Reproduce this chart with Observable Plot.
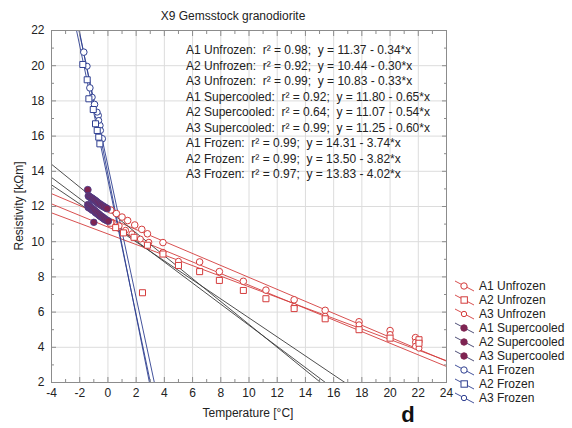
<!DOCTYPE html>
<html><head><meta charset="utf-8">
<script src="https://cdn.jsdelivr.net/npm/d3@7"></script>
<script src="https://cdn.jsdelivr.net/npm/@observablehq/plot@0.6"></script>
<style>
body{margin:0;background:#fff}
svg{font-family:"Liberation Sans",Arial,sans-serif}
</style>
</head><body><div id="chart"></div>
<script>
// ---- fitted regressions (from the annotation) ----
const seriesNames = ["A1 Unfrozen","A2 Unfrozen","A3 Unfrozen","A1 Supercooled","A2 Supercooled","A3 Supercooled","A1 Frozen","A2 Frozen","A3 Frozen"];
const intercepts = [11.37,10.44,10.83,11.80,11.07,11.25,14.31,13.50,13.83];
const slopes = [0.34,0.30,0.33,0.65,0.54,0.60,3.74,3.82,4.02];
const r2 = [0.98,0.92,0.99,0.92,0.64,0.99,0.99,0.99,0.97];
const groups = ["unfrozen","unfrozen","unfrozen","supercooled","supercooled","supercooled","frozen","frozen","frozen"];
const symbols = ["circle","square","smallcircle","filled","filled","filled","circle","square","smallcircle"];

// ---- tick labels ----
const xTicks = [-4,-2,0,2,4,6,8,10,12,14,16,18,20,22,24];
const yTicks = [2,4,6,8,10,12,14,16,18,20,22];
const xMinor = [-3,-1,1,3,5,7,9,11,13,15,17,19,21,23];
const yMinor = [3,5,7,9,11,13,15,17,19,21];

// ---- measured points ----
const a1UnfrozenT = [0.2,0.6,1.0,1.4,1.9,2.4,2.8,3.9,6.5,7.9,9.6,11.2,13.2,15.4,17.8,20.0,21.8];
const a1UnfrozenR = [11.8,11.6,11.4,11.2,10.95,10.7,10.45,9.95,8.85,8.3,7.75,7.25,6.7,6.1,5.45,4.95,4.55];
const a2UnfrozenT = [0.2,0.55,1.1,1.85,2.45,2.8,3.9,5.0,6.5,7.9,9.6,11.2,13.2,15.4,17.8,20.0,22.05,22.05];
const a2UnfrozenR = [11.05,10.8,10.5,10.25,7.1,9.8,9.3,8.65,8.3,7.8,7.23,6.76,6.2,5.62,5.0,4.52,4.43,4.23];
const a3UnfrozenT = [0.3,0.8,1.25,1.7,2.3,2.9,3.9,5.0,13.2,15.4,17.8,20.0,21.8,21.8,22.05];
const a3UnfrozenR = [11.1,10.9,10.65,10.45,10.15,9.97,9.4,8.89,6.32,5.77,5.28,4.73,4.29,4.06,3.95];

const a1SuperT = [-1.43,-1.38,-1.31,-1.24,-1.17,-1.1,-1.02,-0.95,-0.88,-0.8,-0.72,-0.64,-0.56,-0.47,-0.38,-0.28,-0.17,-0.06];
const a1SuperR = [12.95,12.6,12.56,12.52,12.48,12.45,12.4,12.36,12.32,12.27,12.22,12.17,12.12,12.08,12.03,11.98,11.93,11.88];
const a2SuperT = [-1.4,-1.3,-1.2,-1.1,-1.0,-0.9,-0.8,-0.7,-0.6,-0.5,-0.4,-0.3,-0.2];
const a2SuperR = [11.95,11.9,11.85,11.78,11.1,11.66,11.6,11.55,11.48,11.42,11.36,11.3,11.25];
const a3SuperT = [-1.42,-1.36,-1.29,-1.22,-1.15,-1.08,-1.0,-0.92,-0.84,-0.76,-0.67,-0.58,-0.49,-0.4,-0.3,-0.2,-0.1,0.02];
const a3SuperR = [12.1,12.05,12.0,11.95,11.9,11.85,11.8,11.74,11.69,11.63,11.57,11.51,11.45,11.4,11.34,11.28,11.22,11.17];

const a1FrozenT = [-1.71,-1.28,-0.95,-0.69,-0.57,-0.4];
const a1FrozenR = [20.77,18.74,17.8,17.17,16.6,15.85];
const a2FrozenT = [-1.78,-1.47,-1.35,-1.04,-0.88,-0.76,-0.65,-0.57];
const a2FrozenR = [20.07,19.2,18.12,17.51,16.7,16.32,15.94,15.56];
const a3FrozenT = [-1.47,-1.11,-0.76,-0.65,-0.52];
const a3FrozenR = [19.97,18.21,17.36,16.89,16.32];

// ---- styles ----
const RED = "#d43c3c", DARK = "#3b3b3b", BLUE = "#2f3f91", SCFILL = "#7e2452", SCSTROKE = "#4a3f8c";
const lineColor = {unfrozen: RED, supercooled: DARK, frozen: BLUE};
const symColor = {unfrozen: RED, supercooled: SCSTROKE, frozen: BLUE};

const zip = (t, r) => t.map((v, i) => ({t: v, r: r[i]}));
const xDomain = [xTicks[0], xTicks[xTicks.length - 1]];
const lineData = seriesNames.map((name, i) => ({name, group: groups[i], pts: xDomain.map(t => ({t, r: intercepts[i] - slopes[i] * t}))}));

const W = 572, H = 428;
const ml = 51, mr = 126, mt = 30, mb = 46;
const fmt = d => String(d);

const dotsOpen = (d, sym, r, color) => Plot.dot(d, {x: "t", y: "r", symbol: sym, r, stroke: color, fill: "white", strokeWidth: 1});

const plot = Plot.plot({
  width: W, height: H,
  marginLeft: ml, marginRight: mr, marginTop: mt, marginBottom: mb,
  x: {domain: xDomain},
  y: {domain: [yTicks[0], yTicks[yTicks.length - 1]]},
  style: {fontFamily: "Liberation Sans, Arial, sans-serif", fontSize: "12px", background: "white"},
  marks: [
    Plot.gridX(xTicks, {stroke: "#dcdcdc", strokeOpacity: 1}),
    Plot.gridY(yTicks, {stroke: "#dcdcdc", strokeOpacity: 1}),
    // regression lines
    ...lineData.map(L => Plot.line(L.pts, {x: "t", y: "r", stroke: lineColor[L.group], strokeWidth: 0.9, clip: true})),
    // unfrozen
    dotsOpen(zip(a1UnfrozenT, a1UnfrozenR), "circle", 3.3, RED),
    dotsOpen(zip(a3UnfrozenT, a3UnfrozenR), "circle", 3.0, RED),
    dotsOpen(zip(a2UnfrozenT, a2UnfrozenR), "square", 3.4, RED),
    // supercooled
    Plot.dot(zip(a1SuperT, a1SuperR), {x: "t", y: "r", r: 3.5, fill: SCFILL, stroke: SCSTROKE, strokeWidth: 0.8}),
    Plot.dot(zip(a2SuperT, a2SuperR), {x: "t", y: "r", r: 3.3, fill: SCFILL, stroke: SCSTROKE, strokeWidth: 0.8}),
    Plot.dot(zip(a3SuperT, a3SuperR), {x: "t", y: "r", r: 3.5, fill: SCFILL, stroke: SCSTROKE, strokeWidth: 0.8}),
    // frozen
    dotsOpen(zip(a1FrozenT, a1FrozenR), "circle", 3.3, BLUE),
    dotsOpen(zip(a3FrozenT, a3FrozenR), "circle", 3.0, BLUE),
    dotsOpen(zip(a2FrozenT, a2FrozenR), "square", 3.4, BLUE),
    Plot.frame({stroke: "#8c8c8c"}),
    // axes with labels
    Plot.axisX(xTicks, {anchor: "bottom", tickSize: 0, tickPadding: 6, label: null, fill: "#222", fontSize: 12, tickFormat: fmt}),
    Plot.axisY(yTicks, {anchor: "left", tickSize: 0, tickPadding: 7, label: null, fill: "#222", fontSize: 12, tickFormat: fmt}),
    // inward ticks
    Plot.axisX(xTicks, {anchor: "bottom", tickSize: -5, text: null, label: null, stroke: "#8c8c8c"}),
    Plot.axisX(xMinor, {anchor: "bottom", tickSize: -3, text: null, label: null, stroke: "#8c8c8c"}),
    Plot.axisX(xTicks, {anchor: "top", tickSize: -5, text: null, label: null, stroke: "#8c8c8c"}),
    Plot.axisX(xMinor, {anchor: "top", tickSize: -3, text: null, label: null, stroke: "#8c8c8c"}),
    Plot.axisY(yTicks, {anchor: "left", tickSize: -5, text: null, label: null, stroke: "#8c8c8c"}),
    Plot.axisY(yMinor, {anchor: "left", tickSize: -3, text: null, label: null, stroke: "#8c8c8c"}),
    Plot.axisY(yTicks, {anchor: "right", tickSize: -5, text: null, label: null, stroke: "#8c8c8c"}),
    Plot.axisY(yMinor, {anchor: "right", tickSize: -3, text: null, label: null, stroke: "#8c8c8c"})
  ]
});

document.getElementById("chart").appendChild(plot);
const svg = d3.select(plot);
const txt = (x, y, s, o = {}) => svg.append("text").attr("x", x).attr("y", y).attr("fill", "#222")
  .attr("font-size", o.size || 12).attr("text-anchor", o.anchor || "start").attr("dominant-baseline", "central")
  .attr("font-weight", o.weight || "normal")
  .style("white-space", "pre").text(s);

// title and axis labels
txt(233, 16, "X9 Gemsstock granodiorite", {anchor: "middle"});
txt(248, 413, "Temperature [°C]", {anchor: "middle"});
svg.append("text").attr("transform", "translate(19,206) rotate(-90)").attr("text-anchor", "middle")
  .attr("dominant-baseline", "central").attr("font-size", 12).attr("fill", "#222").text("Resistivity [kΩm]");

// regression annotation
seriesNames.forEach((n, i) => {
  txt(186, 50 + i * 15.55, `${n}:  r² = ${r2[i].toFixed(2)};  y = ${intercepts[i].toFixed(2)} - ${slopes[i].toFixed(2)}*x`);
});

// legend
seriesNames.forEach((n, i) => {
  const y = 286 + i * 14, g = groups[i], c = symColor[g];
  svg.append("line").attr("x1", 455).attr("y1", y - 5).attr("x2", 474).attr("y2", y + 5)
    .attr("stroke", g === "supercooled" ? "#3d3d6a" : lineColor[g]).attr("stroke-width", 0.9);
  const s = symbols[i];
  if (s === "square") svg.append("rect").attr("x", 461).attr("y", y - 3.2).attr("width", 6.4).attr("height", 6.4).attr("fill", "white").attr("stroke", c);
  else if (s === "filled") svg.append("circle").attr("cx", 464).attr("cy", y).attr("r", 3.2).attr("fill", SCFILL).attr("stroke", SCFILL);
  else svg.append("circle").attr("cx", 464).attr("cy", y).attr("r", s === "circle" ? 3.2 : 2.7).attr("fill", "white").attr("stroke", c);
  txt(479, y, n);
});

// panel letter
svg.append("text").attr("x", 408).attr("y", 422).attr("text-anchor", "middle").attr("font-size", 22)
  .attr("font-weight", "bold").attr("fill", "#111").text("d");
</script>
</body></html>
